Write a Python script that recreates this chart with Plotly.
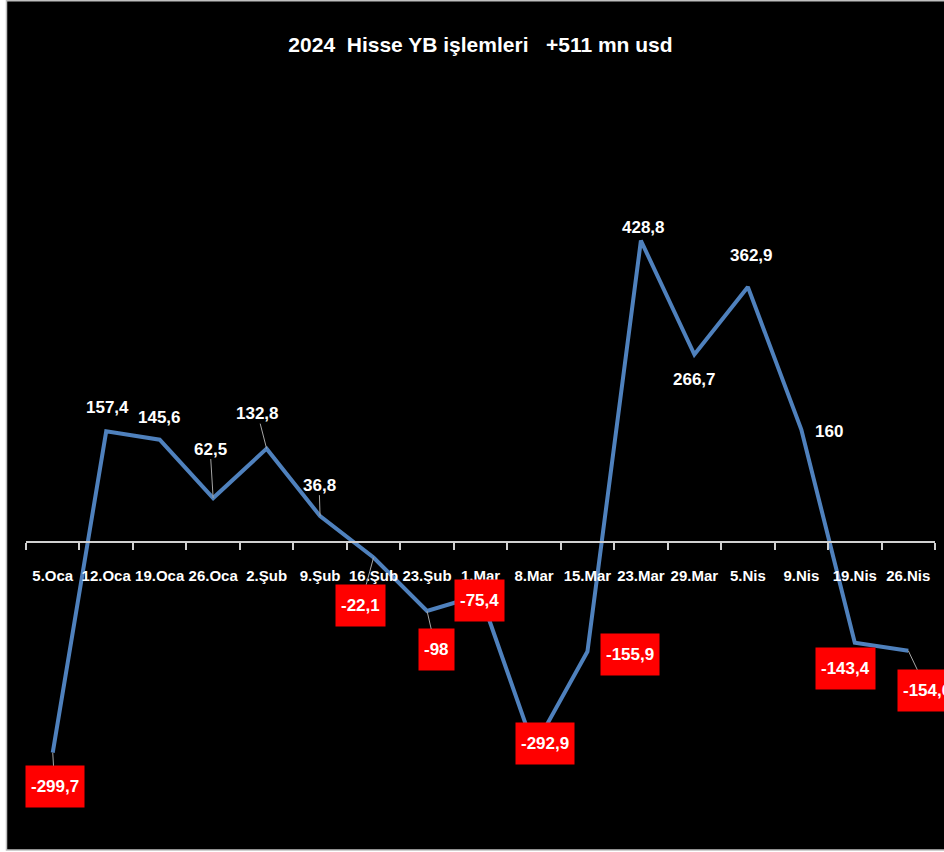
import plotly.graph_objects as go

categories = ["5.Oca", "12.Oca", "19.Oca", "26.Oca", "2.Şub", "9.Şub", "16.Şub", "23.Şub",
              "1.Mar", "8.Mar", "15.Mar", "23.Mar", "29.Mar", "5.Nis", "9.Nis", "19.Nis", "26.Nis"]
values = [-299.7, 157.4, 145.6, 62.5, 132.8, 36.8, -22.1, -98, -75.4, -292.9, -155.9,
          428.8, 266.7, 362.9, 160, -143.4, -154.6]
title_text = "2024  Hisse YB işlemleri   +511 mn usd"

# label offsets in pixels (style only) and whether a leader line is visible
label_dx = [2, 1, 0, -3, -9, -1, -13, 9, -1, 11, 43, 3, 0, 4, 28, -9, 19]
label_dy = [34, -24, -22, -49, -35, -31, 48, 39, 5, -4, 3, -13, 25, -31, 2, 26, 40]
leader = [True, False, False, True, True, True, True, True, False, False, False,
          False, False, False, False, False, True]

W, H = 944, 852
ML, MR, MT, MB = 26, 9, 90, 22
YMIN, YMAX = -409.7, 643.0
FONT = "Liberation Sans, Arial, sans-serif"

fig = go.Figure()
fig.add_trace(go.Scatter(
    x=categories, y=values, mode="lines",
    line=dict(color="#4F81BD", width=4),
    hoverinfo="skip", showlegend=False,
))

pw = W - ML - MR
ph = H - MT - MB
def px2x(px):
    return (px - ML) / pw
def py2y(py):
    return (H - MB - py) / ph

shapes = [dict(type="rect", xref="paper", yref="paper", layer="below",
               x0=px2x(6.5), x1=px2x(W + 20), y0=py2y(850), y1=py2y(0.8),
               fillcolor="black", line=dict(color="#c0c0c0", width=1.5))]

annotations = []
for c, v, dx, dy, ld in zip(categories, values, label_dx, label_dy, leader):
    txt = f"{v:g}".replace(".", ",")
    neg = v < 0
    ann = dict(
        x=c, y=v, xref="x", yref="y", text="<b>" + txt + "</b>",
        showarrow=True, ax=dx, ay=dy, arrowhead=0, arrowwidth=1,
        arrowcolor="#a6a6a6" if ld else "rgba(0,0,0,0)",
        font=dict(family=FONT, size=17, color="white"),
        bgcolor="#FF0000" if neg else "rgba(0,0,0,0)",
        borderpad=5 if neg else 0,
    )
    if neg:
        ann["height"] = 31
    annotations.append(ann)

zero_pos = (0 - YMIN) / (YMAX - YMIN)

fig.update_layout(
    width=W, height=H,
    margin=dict(l=ML, r=MR, t=MT, b=MB),
    paper_bgcolor="white",
    plot_bgcolor="rgba(0,0,0,0)",
    title=dict(text="<b>" + title_text + "</b>", x=0.5, xref="paper", xanchor="center",
               y=1 - 45 / H, yanchor="middle",
               font=dict(family=FONT, size=21, color="white")),
    xaxis=dict(type="category", anchor="free", position=zero_pos,
               showline=True, linecolor="#d0d0d0", linewidth=1.5,
               ticks="outside", ticklen=7, tickcolor="#d0d0d0", tickwidth=1.5,
               tickson="boundaries", showgrid=False, zeroline=False,
               ticklabelstandoff=20, tickangle=0,
               tickfont=dict(family=FONT, size=15, color="white"),
               tickprefix="<b>", ticksuffix="</b>",
               range=[-0.5, len(categories) - 0.5]),
    yaxis=dict(range=[YMIN, YMAX], visible=False, showgrid=False, zeroline=False),
    shapes=shapes,
    annotations=annotations,
)

fig.write_html("out.html", config={"displayModeBar": False},
               post_script="document.body.style.margin='0px';document.body.style.overflow='hidden';")
